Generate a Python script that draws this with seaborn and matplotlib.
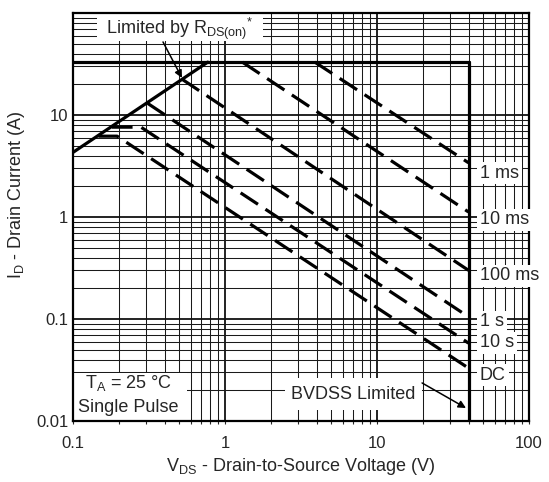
import numpy as np
import pandas as pd
import seaborn as sns
import matplotlib.pyplot as plt
from matplotlib.patches import Rectangle
from matplotlib.ticker import FixedLocator, NullFormatter, LogLocator

# Safe operating area curves (VDS in V, ID in A)
rds_v = [0.1, 0.77]
rds_i = [4.3, 33]
idmax_v = [0.1, 40]
idmax_i = [33, 33]
bvdss_v = [40, 40]
bvdss_i = [33, 0.01]
pulse_names = ['1 ms', '10 ms', '100 ms', '1 s', '10 s', 'DC']
pulse_v = [[3.9, 40], [1.3, 40], [0.52, 40], [0.31, 40], [0.18, 0.28, 40], [0.147, 0.195, 40]]
pulse_i = [[33, 3.4], [33, 1.12], [22.5, 0.30], [13, 0.105], [7.6, 7.6, 0.058], [6.2, 6.2, 0.033]]
label_i = [2.7, 0.935, 0.264, 0.0935, 0.0582, 0.0282]

rows = []
for name, v, i in [('rds', rds_v, rds_i), ('idmax', idmax_v, idmax_i), ('bvdss', bvdss_v, bvdss_i)]:
    for k, (a, b) in enumerate(zip(v, i)):
        rows.append(dict(curve=name, kind='solid', order=k, vds=a, id=b))
for name, v, i in zip(pulse_names, pulse_v, pulse_i):
    for k, (a, b) in enumerate(zip(v, i)):
        rows.append(dict(curve=name, kind='dashed', order=k, vds=a, id=b))
df = pd.DataFrame(rows)

sns.set_style('ticks')
plt.rcParams['font.family'] = ['Liberation Sans', 'DejaVu Sans']
plt.rcParams['mathtext.fontset'] = 'custom'
plt.rcParams['mathtext.rm'] = 'Liberation Sans'
plt.rcParams['mathtext.it'] = 'Liberation Sans:italic'
plt.rcParams['mathtext.default'] = 'regular'

fs = 13

fig = plt.figure(figsize=(5.49, 4.82), dpi=100)
ax = fig.add_axes([73 / 549, 61 / 482, 456 / 549, 408 / 482])
ax.set_xscale('log')
ax.set_yscale('log')

sns.lineplot(data=df, x='vds', y='id', units='curve', estimator=None, sort=False,
             style='kind', dashes={'solid': '', 'dashed': (6.5, 2.8)},
             color='black', lw=2.3, legend=False, ax=ax, zorder=2)

ax.set_xlim(0.1, 100)
ax.set_ylim(0.01, 100)

ax.xaxis.set_major_locator(FixedLocator([0.1, 1, 10, 100]))
ax.set_xticklabels(['0.1', '1', '10', '100'])
ax.yaxis.set_major_locator(FixedLocator([0.01, 0.1, 1, 10, 100]))
ax.set_yticklabels(['0.01', '0.1', '1', '10', ''])
ax.xaxis.set_minor_locator(LogLocator(base=10, subs=np.arange(2, 10)))
ax.yaxis.set_minor_locator(LogLocator(base=10, subs=np.arange(2, 10)))
ax.xaxis.set_minor_formatter(NullFormatter())
ax.yaxis.set_minor_formatter(NullFormatter())

ax.set_axisbelow(True)
ax.grid(which='major', color='#111111', lw=1.3)
ax.grid(which='minor', color='#1a1a1a', lw=0.75)
ax.tick_params(axis='x', which='both', direction='out', length=2.5, width=0.8, pad=8, labelsize=12)
ax.tick_params(axis='y', which='both', length=0, pad=3.5, labelsize=12)
for s in ax.spines.values():
    s.set_linewidth(1.6)
    s.set_color('black')

ax.set_xlabel(r'V$_{DS}$ - Drain-to-Source Voltage (V)', fontsize=fs)
ax.set_ylabel(r'I$_{D}$ - Drain Current (A)', fontsize=fs)
ax.xaxis.set_label_coords(0.5, -0.085)
ax.yaxis.set_label_coords(-0.10, 0.554)

# white boxes over the grid
for x0, y0, w, h in [(0.053, 0.931, 0.364, 0.069), (0.0, 0.0, 0.25, 0.118), (0.465, 0.027, 0.3, 0.078)]:
    ax.add_patch(Rectangle((x0, y0), w, h, transform=ax.transAxes, facecolor='white',
                           edgecolor='none', zorder=1))

ax.text(0.506, 70, r'Limited by R$_{DS(on)}{}^{*}$', ha='center', va='center', fontsize=fs, zorder=3)
ax.annotate('', xy=(0.521, 23.1), xytext=(0.391, 52),
            arrowprops=dict(arrowstyle='-|>', color='black', lw=1.1, mutation_scale=11,
                            shrinkA=0, shrinkB=0), zorder=3)

ax.text(0.232, 0.0211, r'T$_{A}$ = 25 °C', ha='center', va='baseline', fontsize=fs, zorder=3)
ax.text(0.232, 0.01225, 'Single Pulse', ha='center', va='baseline', fontsize=fs, zorder=3)

ax.text(6.95, 0.018, 'BVDSS Limited', ha='center', va='center', fontsize=fs, zorder=3)
ax.annotate('', xy=(38.5, 0.0134), xytext=(19.8, 0.0236),
            arrowprops=dict(arrowstyle='-|>', color='black', lw=1.1, mutation_scale=11,
                            shrinkA=0, shrinkB=0), zorder=3)

for name, yi in zip(pulse_names, label_i):
    ax.text(47.6, yi, name, ha='left', va='center', fontsize=fs, zorder=5, clip_on=False,
            bbox=dict(facecolor='white', edgecolor='none', pad=2))

fig.savefig('out.png', dpi=100)
